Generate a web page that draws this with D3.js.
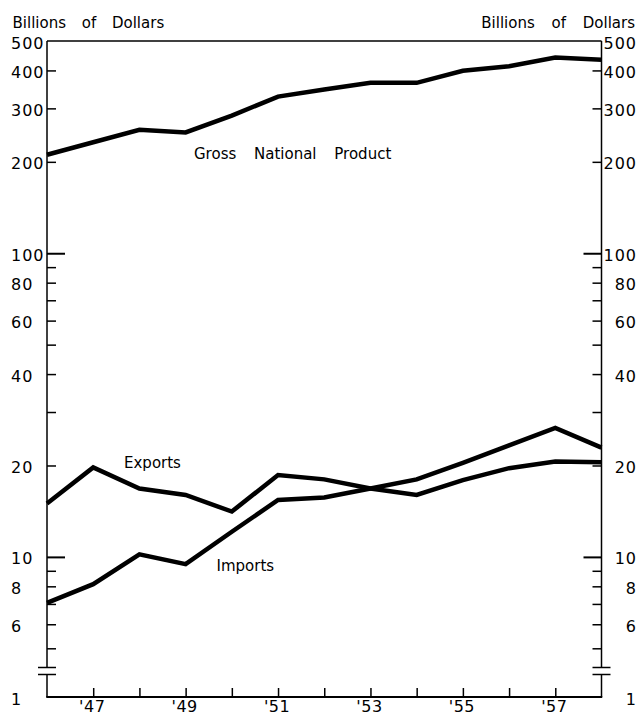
<!DOCTYPE html>
<html>
<head>
<meta charset="utf-8">
<script src="https://cdn.jsdelivr.net/npm/d3@7"></script>
<style>
  html, body { margin: 0; padding: 0; background: #fff; }
  svg { display: block; }
  text { font-family: "DejaVu Sans", sans-serif; fill: #000; }
</style>
</head>
<body>
<svg id="chart" width="637" height="716"></svg>
<script>
// ---- data ----
const years   = [1946, 1947, 1948, 1949, 1950, 1951, 1952, 1953, 1954, 1955, 1956, 1957, 1958];
const gnp     = [211, 232, 255, 250, 284, 328, 346, 364, 364, 399, 413, 441, 434];
const exportsV= [15.0, 19.7, 16.8, 16.0, 14.1, 18.6, 18.0, 16.8, 16.0, 17.9, 19.6, 20.6, 20.5];
const importsV= [7.06, 8.13, 10.2, 9.46, 12.1, 15.4, 15.7, 16.8, 18.0, 20.4, 23.3, 26.6, 22.9];

const labeledTicks = [500, 400, 300, 200, 100, 80, 60, 40, 20, 10, 8, 6];
const minorTicks   = [90, 70, 50, 30, 9, 7, 5];
const longTicks    = [100, 10];
const xTickYears   = [1947, 1948, 1949, 1950, 1951, 1952, 1953, 1954, 1955, 1956, 1957];
const xLabelYears  = [1947, 1949, 1951, 1953, 1955, 1957];
const unitLabel    = "Billions of Dollars";
const seriesLabels = ["Gross National Product", "Exports", "Imports"];

// ---- layout ----
const pLeft = 47, pRight = 601.5, pTop = 41, pBottom = 697;
const breakTop = 667.5, breakBot = 674.5;

const svg = d3.select("#chart");
const x = d3.scaleLinear().domain([1946, 1958]).range([pLeft, pRight]);
const y = d3.scaleLog().domain([5, 500]).range([648.3, pTop]);

// ---- frame ----
const g = svg.append("g");
g.append("line").attr("x1", pLeft).attr("x2", pRight).attr("y1", pTop).attr("y2", pTop)
  .attr("stroke", "#000").attr("stroke-width", 1.5);
g.append("line").attr("x1", pLeft - 0.75).attr("x2", pRight + 0.75).attr("y1", pBottom).attr("y2", pBottom)
  .attr("stroke", "#000").attr("stroke-width", 2);
[pLeft, pRight].forEach(ax => {
  g.append("line").attr("x1", ax).attr("x2", ax).attr("y1", pTop).attr("y2", breakTop)
    .attr("stroke", "#000").attr("stroke-width", 1.5);
  g.append("line").attr("x1", ax).attr("x2", ax).attr("y1", breakBot).attr("y2", pBottom)
    .attr("stroke", "#000").attr("stroke-width", 1.5);
  [breakTop, breakBot].forEach(by => {
    g.append("line").attr("x1", ax - 9).attr("x2", ax + 9).attr("y1", by).attr("y2", by)
      .attr("stroke", "#000").attr("stroke-width", 1.5);
  });
});

// ---- y ticks via d3 axes ----
const allTicks = labeledTicks.concat(minorTicks).filter(v => v !== 500);
const tickLen = v => longTicks.includes(v) ? 18 : 9;

const leftAxis = svg.append("g").attr("transform", `translate(${pLeft},0)`)
  .call(d3.axisRight(y).tickValues(allTicks).tickSizeOuter(0).tickFormat(""));
leftAxis.select(".domain").remove();
leftAxis.selectAll(".tick line").attr("x2", d => tickLen(d))
  .attr("stroke-width", d => longTicks.includes(d) ? 2 : 1.5);

const rightAxis = svg.append("g").attr("transform", `translate(${pRight},0)`)
  .call(d3.axisLeft(y).tickValues(allTicks).tickSizeOuter(0).tickFormat(""));
rightAxis.select(".domain").remove();
rightAxis.selectAll(".tick line").attr("x2", d => -tickLen(d))
  .attr("stroke-width", d => longTicks.includes(d) ? 2 : 1.5);

// y tick labels
const lblG = svg.append("g").style("font-size", "16px").style("letter-spacing", "1px");
labeledTicks.forEach(v => {
  lblG.append("text").attr("x", 11).attr("y", y(v) + 2)
    .attr("dominant-baseline", "central").attr("text-anchor", "start").text(v);
  lblG.append("text").attr("x", 637).attr("y", y(v) + 2)
    .attr("dominant-baseline", "central").attr("text-anchor", "end").text(v);
});
lblG.append("text").attr("x", 11).attr("y", 699).attr("dominant-baseline", "central").text("1");
lblG.append("text").attr("x", 637).attr("y", 699).attr("dominant-baseline", "central")
  .attr("text-anchor", "end").text("1");

// ---- x ticks via d3 axis ----
const xAxis = svg.append("g").attr("transform", `translate(0,${pBottom})`)
  .call(d3.axisTop(x).tickValues(xTickYears).tickSize(9).tickSizeOuter(0).tickFormat(""));
xAxis.select(".domain").remove();
xAxis.selectAll(".tick line").attr("stroke-width", 1.5);

const xl = svg.append("g").style("font-size", "16px").style("letter-spacing", "0.5px");
xLabelYears.forEach(yr => {
  xl.append("text").attr("x", x(yr) - 1).attr("y", 712).attr("text-anchor", "middle")
    .text("'" + String(yr).slice(2));
});

// ---- series lines ----
const line = d3.line().x((d, i) => x(years[i])).y(d => y(d));
[gnp, exportsV, importsV].forEach(series => {
  svg.append("path").datum(series).attr("d", line)
    .attr("fill", "none").attr("stroke", "#000").attr("stroke-width", 4.5)
    .attr("stroke-linejoin", "miter").attr("stroke-miterlimit", 3);
});

// ---- text labels ----
const tl = svg.append("g").style("font-size", "15px");
tl.append("text").attr("x", 12.5).attr("y", 28).style("word-spacing", "11px").text(unitLabel);
tl.append("text").attr("x", 635).attr("y", 28).attr("text-anchor", "end")
  .style("word-spacing", "12px").text(unitLabel);
tl.append("text").attr("x", 194).attr("y", 159).style("word-spacing", "13px").text(seriesLabels[0]);
tl.append("text").attr("x", 124).attr("y", 468).text(seriesLabels[1]);
tl.append("text").attr("x", 216.5).attr("y", 570.5).text(seriesLabels[2]);
</script>
</body>
</html>
